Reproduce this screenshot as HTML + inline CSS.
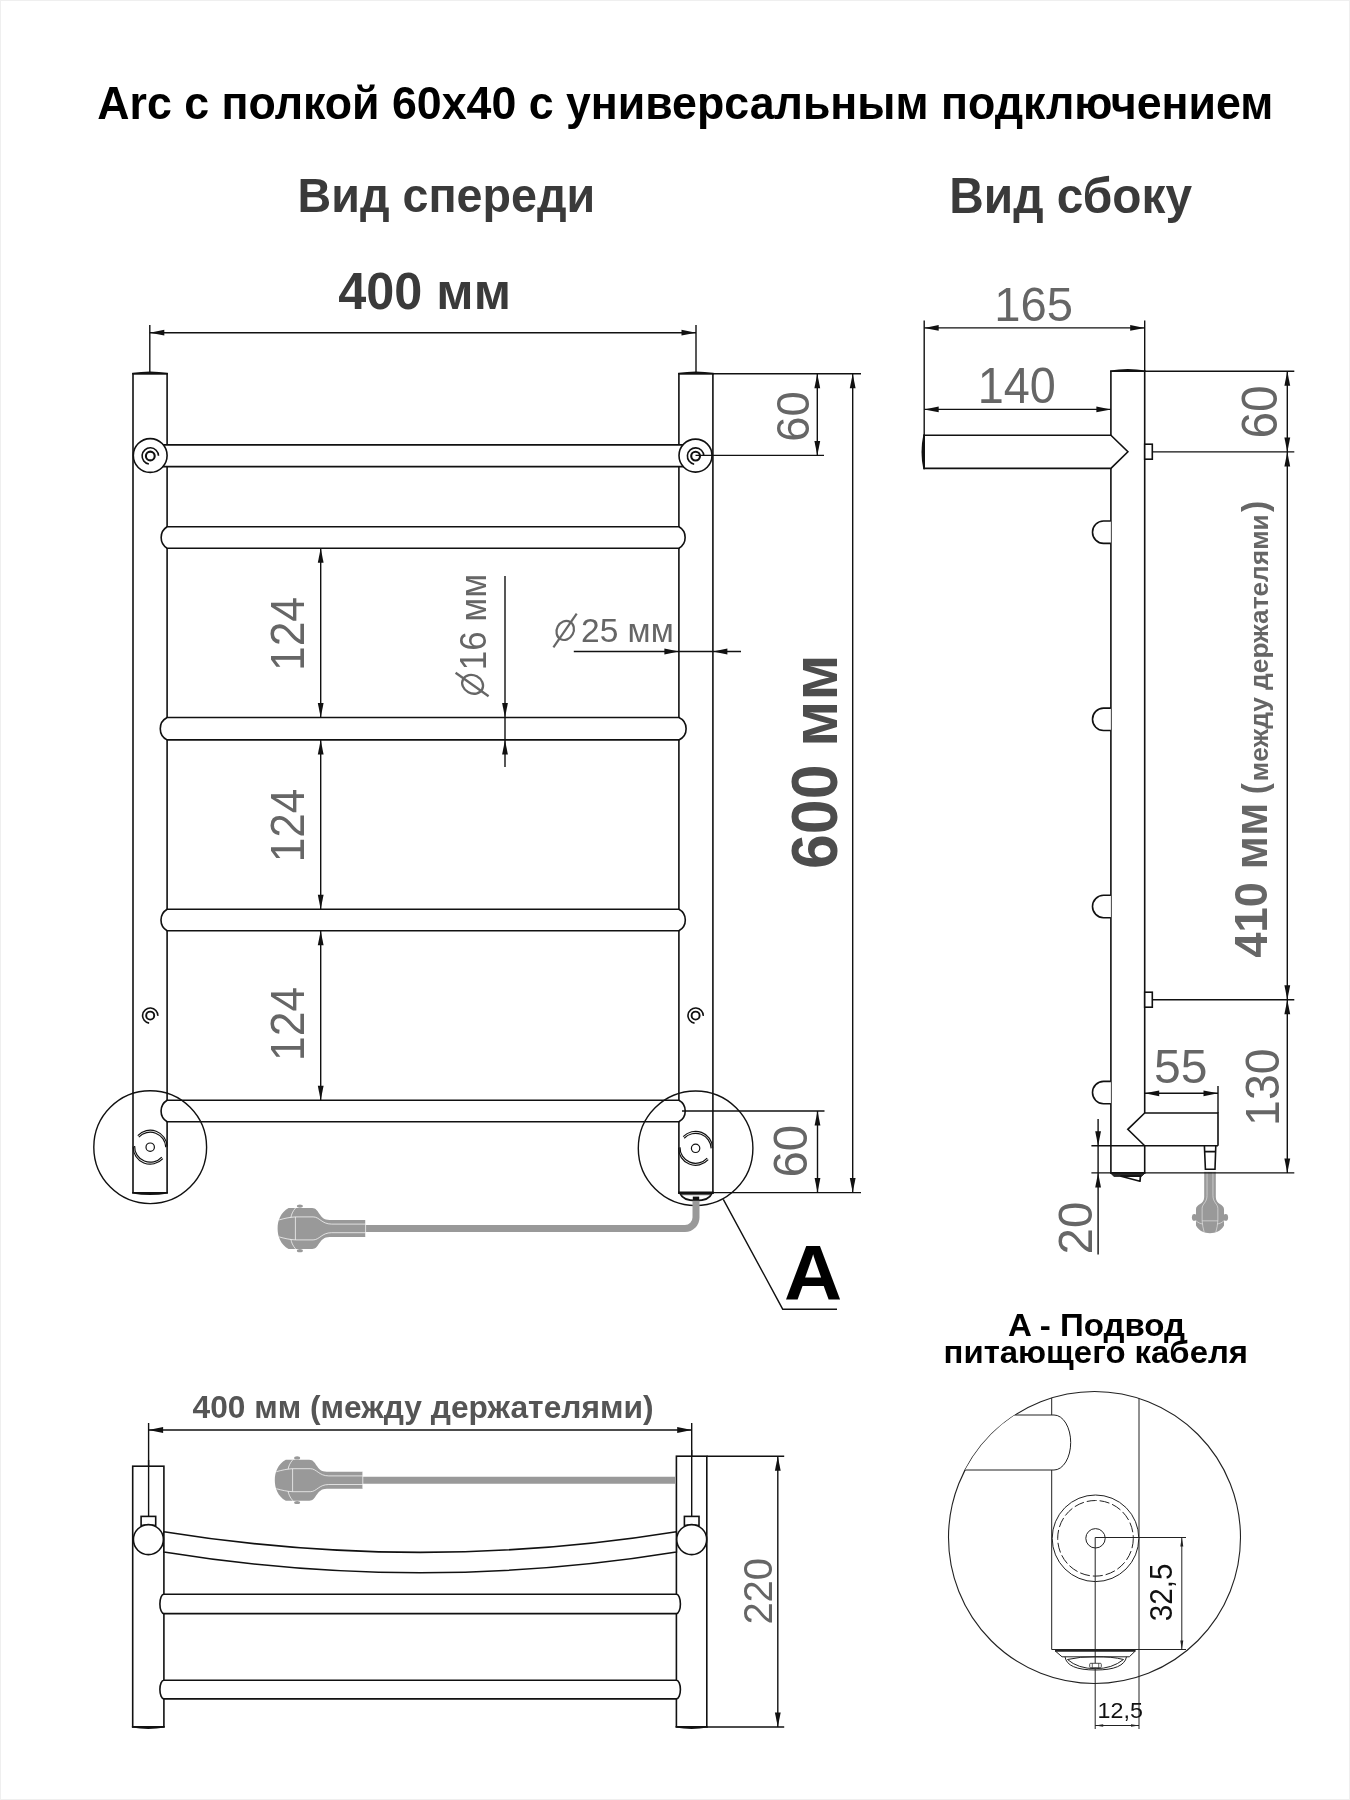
<!DOCTYPE html>
<html lang="ru"><head><meta charset="utf-8"><title>Arc с полкой 60х40</title>
<style>
html,body{margin:0;padding:0;background:#fff;}
body{width:1350px;height:1800px;overflow:hidden;font-family:"Liberation Sans",sans-serif;}
svg{display:block;will-change:transform;}
svg text{font-family:"Liberation Sans",sans-serif;}
</style></head>
<body>
<svg width="1350" height="1800" viewBox="0 0 1350 1800">
<rect width="1350" height="1800" fill="#fff"/>
<defs><g id="plug"><path d="M11,-20.5 L34.5,-20.5 C42,-20.5 41,-8.5 52,-8.5 L88,-8.5 L88,8.5 L52,8.5 C41,8.5 42,20.5 34.5,20.5 L11,20.5 C3,16 0,8 0,0 C0,-8 3,-16 11,-20.5 Z" fill="#999"/><ellipse cx="22.3" cy="-22.3" rx="3" ry="1.6" fill="#999"/><ellipse cx="22.3" cy="22.3" rx="3" ry="1.6" fill="#999"/><g fill="none" stroke="#fff" stroke-width="0.7"><path d="M17.8,-11.5 L35.5,-11.5 C42,-11.5 44,-4.3 54,-4.3 L88,-4.3"/><path d="M17.8,11.5 L35.5,11.5 C42,11.5 44,4.3 54,4.3 L88,4.3"/><path d="M17.8,-11.5 L17.8,11.5"/><path d="M1.5,-8.5 C7,-10 12,-11.2 17.8,-11.5"/><path d="M1.5,8.5 C7,10 12,11.2 17.8,11.5"/><path d="M18,-20.5 C15,-17 13.8,-14 13.3,-10.8"/><path d="M18,20.5 C15,17 13.8,14 13.3,10.8"/><path d="M88,-8.5 L88,8.5"/></g></g></defs>
<text transform="translate(97.29,118.90) scale(0.9827,1)" font-size="45.49" font-weight="bold" fill="#000">Arc с полкой 60х40 с универсальным подключением</text>
<text transform="translate(297.58,211.80) scale(0.9666,1)" font-size="48.26" font-weight="bold" fill="#3a3a3a">Вид спереди</text>
<text transform="translate(949.20,213.40) scale(0.9680,1)" font-size="49.42" font-weight="bold" fill="#3a3a3a">Вид сбоку</text>
<text transform="translate(338.24,309.20) scale(0.9662,1)" font-size="52.18" font-weight="bold" fill="#3a3a3a">400 мм</text>
<rect x="133.0" y="373.6" width="34.10" height="819.20" fill="#fff" stroke="#111" stroke-width="1.6"/>
<path d="M132.2,374.5 L132.2,373.0 Q150.05,370.0 167.9,373.0 L167.9,374.5 Z" fill="#111"/>
<path d="M132.2,1191.8999999999999 L132.2,1193.3999999999999 Q150.05,1196.3999999999999 167.9,1193.3999999999999 L167.9,1191.8999999999999 Z" fill="#111"/>
<rect x="678.9" y="373.6" width="34.00" height="819.20" fill="#fff" stroke="#111" stroke-width="1.6"/>
<path d="M678.1,374.5 L678.1,373.0 Q695.9,370.0 713.6999999999999,373.0 L713.6999999999999,374.5 Z" fill="#111"/>
<line x1="678.10" y1="1192.80" x2="713.70" y2="1192.80" stroke="#111" stroke-width="2.6" />
<rect x="162.1" y="444.9" width="521.80" height="21.7" fill="#fff"/>
<line x1="162.10" y1="444.90" x2="683.90" y2="444.90" stroke="#111" stroke-width="1.6" />
<line x1="162.10" y1="466.60" x2="683.90" y2="466.60" stroke="#111" stroke-width="1.6" />
<path d="M167.1,526.8 L678.9,526.8 A12.3,12.3 0 0 1 678.9,548.2 L167.1,548.2 A12.6,12.6 0 0 1 167.1,526.8 Z" fill="#fff" stroke="#111" stroke-width="1.6"/>
<path d="M167.1,717.5 L678.9,717.5 A12.3,12.3 0 0 1 678.9,739.9 L167.1,739.9 A12.6,12.6 0 0 1 167.1,717.5 Z" fill="#fff" stroke="#111" stroke-width="1.6"/>
<path d="M167.1,909.2 L678.9,909.2 A12.3,12.3 0 0 1 678.9,930.8 L167.1,930.8 A12.6,12.6 0 0 1 167.1,909.2 Z" fill="#fff" stroke="#111" stroke-width="1.6"/>
<path d="M167.1,1100.2 L678.9,1100.2 A12.3,12.3 0 0 1 678.9,1121.7 L167.1,1121.7 A12.6,12.6 0 0 1 167.1,1100.2 Z" fill="#fff" stroke="#111" stroke-width="1.6"/>
<circle cx="150.2" cy="455.5" r="16.9" fill="#fff" stroke="#111" stroke-width="1.6"/>
<circle cx="150.29999999999998" cy="456.0" r="4.4" fill="none" stroke="#111" stroke-width="2.1"/>
<path d="M148.88,464.08 A8.20,8.20 0 1 1 158.50,455.71" fill="none" stroke="#111" stroke-width="1.6"/>
<circle cx="695.5" cy="455.6" r="16.5" fill="#fff" stroke="#111" stroke-width="1.6"/>
<circle cx="695.6" cy="456.1" r="4.4" fill="none" stroke="#111" stroke-width="2.1"/>
<path d="M694.18,464.18 A8.20,8.20 0 1 1 703.80,455.81" fill="none" stroke="#111" stroke-width="1.6"/>
<circle cx="150.2" cy="1015.6" r="4.0" fill="none" stroke="#111" stroke-width="1.9"/>
<path d="M149.14,1023.13 A7.60,7.60 0 1 1 157.80,1015.87" fill="none" stroke="#111" stroke-width="1.6"/>
<circle cx="695.6" cy="1015.6" r="4.0" fill="none" stroke="#111" stroke-width="1.9"/>
<path d="M694.54,1023.13 A7.60,7.60 0 1 1 703.20,1015.87" fill="none" stroke="#111" stroke-width="1.6"/>
<circle cx="150.2" cy="1147.2" r="56.4" fill="none" stroke="#111" stroke-width="1.4"/>
<circle cx="150.2" cy="1147.2" r="4.2" fill="none" stroke="#111" stroke-width="1.2"/>
<path d="M138.79,1137.16 A15.60,15.60 0 0 1 165.79,1147.26" fill="none" stroke="#111" stroke-width="1.2"/>
<path d="M161.79,1157.04 A15.60,15.60 0 0 1 134.61,1146.06" fill="none" stroke="#111" stroke-width="1.2"/>
<path d="M137.77,1135.61 A17.00,17.00 0 0 1 167.19,1146.61" fill="none" stroke="#111" stroke-width="1.2"/>
<path d="M162.83,1158.58 A17.00,17.00 0 0 1 133.21,1146.61" fill="none" stroke="#111" stroke-width="1.2"/>
<circle cx="695.6" cy="1148.3" r="57.3" fill="none" stroke="#111" stroke-width="1.4"/>
<circle cx="695.6" cy="1148.3" r="4.2" fill="none" stroke="#111" stroke-width="1.2"/>
<path d="M684.19,1138.26 A15.60,15.60 0 0 1 711.19,1148.36" fill="none" stroke="#111" stroke-width="1.2"/>
<path d="M707.19,1158.14 A15.60,15.60 0 0 1 680.01,1147.16" fill="none" stroke="#111" stroke-width="1.2"/>
<path d="M683.17,1136.71 A17.00,17.00 0 0 1 712.59,1147.71" fill="none" stroke="#111" stroke-width="1.2"/>
<path d="M708.23,1159.68 A17.00,17.00 0 0 1 678.61,1147.71" fill="none" stroke="#111" stroke-width="1.2"/>
<line x1="149.80" y1="325.00" x2="149.80" y2="373.60" stroke="#111" stroke-width="1.4" />
<line x1="696.00" y1="325.00" x2="696.00" y2="373.60" stroke="#111" stroke-width="1.4" />
<line x1="149.80" y1="332.70" x2="696.00" y2="332.70" stroke="#111" stroke-width="1.4" />
<polygon points="149.80,332.70 164.30,329.80 164.30,335.60" fill="#111"/>
<polygon points="696.00,332.70 681.50,335.60 681.50,329.80" fill="#111"/>
<line x1="712.90" y1="373.80" x2="861.00" y2="373.80" stroke="#111" stroke-width="1.4" />
<line x1="695.50" y1="455.40" x2="824.00" y2="455.40" stroke="#111" stroke-width="1.4" />
<line x1="817.30" y1="373.80" x2="817.30" y2="455.40" stroke="#111" stroke-width="1.4" />
<polygon points="817.30,373.80 820.20,388.30 814.40,388.30" fill="#111"/>
<polygon points="817.30,455.40 814.40,440.90 820.20,440.90" fill="#111"/>
<text transform="translate(808.55,441.80) rotate(-90) scale(0.9751,1)" font-size="46.47" font-weight="normal" fill="#666">60</text>
<line x1="852.70" y1="373.80" x2="852.70" y2="1192.60" stroke="#111" stroke-width="1.4" />
<polygon points="852.70,373.80 855.60,388.30 849.80,388.30" fill="#111"/>
<polygon points="852.70,1192.60 849.80,1178.10 855.60,1178.10" fill="#111"/>
<text transform="translate(836.97,869.00) rotate(-90) scale(0.9668,1)" font-size="64.83" font-weight="bold" fill="#4d4d4d">600 мм</text>
<line x1="682.00" y1="1111.00" x2="824.50" y2="1111.00" stroke="#111" stroke-width="1.4" />
<line x1="712.90" y1="1192.60" x2="861.00" y2="1192.60" stroke="#111" stroke-width="1.4" />
<line x1="817.50" y1="1111.00" x2="817.50" y2="1192.60" stroke="#111" stroke-width="1.4" />
<polygon points="817.50,1111.00 820.40,1125.50 814.60,1125.50" fill="#111"/>
<polygon points="817.50,1192.60 814.60,1178.10 820.40,1178.10" fill="#111"/>
<text transform="translate(806.53,1177.40) rotate(-90) scale(0.9866,1)" font-size="47.88" font-weight="normal" fill="#666">60</text>
<line x1="320.70" y1="548.20" x2="320.70" y2="717.50" stroke="#111" stroke-width="1.4" />
<polygon points="320.70,548.20 323.60,562.70 317.80,562.70" fill="#111"/>
<polygon points="320.70,717.50 317.80,703.00 323.60,703.00" fill="#111"/>
<text transform="translate(303.70,671.09) rotate(-90) scale(0.9407,1)" font-size="47.26" font-weight="normal" fill="#666">124</text>
<line x1="320.70" y1="739.90" x2="320.70" y2="909.20" stroke="#111" stroke-width="1.4" />
<polygon points="320.70,739.90 323.60,754.40 317.80,754.40" fill="#111"/>
<polygon points="320.70,909.20 317.80,894.70 323.60,894.70" fill="#111"/>
<text transform="translate(303.70,862.26) rotate(-90) scale(0.9341,1)" font-size="47.26" font-weight="normal" fill="#666">124</text>
<line x1="320.70" y1="930.80" x2="320.70" y2="1100.20" stroke="#111" stroke-width="1.4" />
<polygon points="320.70,930.80 323.60,945.30 317.80,945.30" fill="#111"/>
<polygon points="320.70,1100.20 317.80,1085.70 323.60,1085.70" fill="#111"/>
<text transform="translate(303.70,1060.88) rotate(-90) scale(0.9387,1)" font-size="47.26" font-weight="normal" fill="#666">124</text>
<line x1="505.00" y1="576.00" x2="505.00" y2="767.00" stroke="#111" stroke-width="1.4" />
<polygon points="505.00,717.50 502.10,703.00 507.90,703.00" fill="#111"/>
<polygon points="505.00,739.90 507.90,754.40 502.10,754.40" fill="#111"/>
<text transform="translate(486.34,670.26) rotate(-90) scale(0.9573,1)" font-size="36.44" font-weight="normal" fill="#666">16 мм</text>
<g transform="translate(472.6,684.3) rotate(-90)" fill="none" stroke="#666" stroke-width="2.3"><ellipse cx="0" cy="0" rx="9.0" ry="10.8" transform="rotate(28)"/><line x1="-12" y1="16" x2="11.5" y2="-17"/></g>
<line x1="573.80" y1="651.50" x2="741.00" y2="651.50" stroke="#111" stroke-width="1.4" />
<polygon points="678.90,651.50 664.40,654.40 664.40,648.60" fill="#111"/>
<polygon points="712.90,651.50 727.40,648.60 727.40,654.40" fill="#111"/>
<text transform="translate(581.01,641.58) scale(1.0368,1)" font-size="32.34" font-weight="normal" fill="#666">25 мм</text>
<g transform="translate(565.2,630.4)" fill="none" stroke="#666" stroke-width="2.2"><ellipse cx="0" cy="0" rx="8.4" ry="9.9" transform="rotate(28)"/><line x1="-11.8" y1="17" x2="11.5" y2="-16.8"/></g>
<path d="M680.2,1193.6 Q683,1200.6 696,1200.6 Q709,1200.6 711.7,1193.6 Z" fill="#fff" stroke="#111" stroke-width="1.7"/>
<line x1="681.5" y1="1194.6" x2="710.5" y2="1194.6" stroke="#555" stroke-width="1.2"/>
<rect x="692.8" y="1196.6" width="6.4" height="4.2" fill="#111"/>
<path d="M365,1228.4 L685,1228.4 A11,11 0 0 0 696,1217.4 L696,1200.8" fill="none" stroke="#999" stroke-width="7"/>
<use href="#plug" transform="translate(277.6,1228.4)"/>
<path d="M723.3,1199.3 L782.7,1309.2 L837,1309.2" fill="none" stroke="#111" stroke-width="1.4"/>
<text transform="translate(783.99,1299.70) scale(1.0272,1)" font-size="78.49" font-weight="bold" fill="#000">A</text>
<path d="M1144.7,1113 L1144.7,371.2 L1110.9,371.2 L1110.9,1172.9 L1144.7,1172.9 L1144.7,1145.7" fill="none" stroke="#111" stroke-width="1.6"/>
<path d="M1110.1000000000001,372.09999999999997 L1110.1000000000001,370.59999999999997 Q1127.8000000000002,367.59999999999997 1145.5,370.59999999999997 L1145.5,372.09999999999997 Z" fill="#111"/>
<path d="M1110.9,435.2 L924.1,435.2 L924.1,468.4 L1110.9,468.4 L1127.9,451.8 Z" fill="#fff" stroke="#111" stroke-width="1.6"/>
<path d="M925,434.4 L923.4,434.4 Q919.6,451.8 923.4,469.2 L925,469.2 Z" fill="#111"/>
<path d="M1110.9,521.0 L1103.5,521.0 A11,11.2 0 0 0 1103.5,543.4000000000001 L1110.9,543.4000000000001" fill="#fff" stroke="#111" stroke-width="1.6"/>
<path d="M1110.9,708.0999999999999 L1103.5,708.0999999999999 A11,11.2 0 0 0 1103.5,730.5 L1110.9,730.5" fill="#fff" stroke="#111" stroke-width="1.6"/>
<path d="M1110.9,895.3 L1103.5,895.3 A11,11.2 0 0 0 1103.5,917.7 L1110.9,917.7" fill="#fff" stroke="#111" stroke-width="1.6"/>
<path d="M1110.9,1081.3999999999999 L1103.5,1081.3999999999999 A11,11.2 0 0 0 1103.5,1103.8 L1110.9,1103.8" fill="#fff" stroke="#111" stroke-width="1.6"/>
<rect x="1144.7" y="444.2" width="7.6" height="15" fill="#fff" stroke="#111" stroke-width="1.6"/>
<rect x="1144.7" y="992.2" width="7.6" height="15" fill="#fff" stroke="#111" stroke-width="1.6"/>
<path d="M1144.7,1145.7 L1127.8,1129.3 L1144.7,1113 L1218,1113 L1218,1145.7" fill="none" stroke="#111" stroke-width="1.6"/>
<path d="M1204.4,1145.7 L1205.4,1169.2 L1215.0,1169.2 L1215.8,1145.7 M1204.6,1151.6 L1215.6,1151.6" fill="none" stroke="#111" stroke-width="1.6"/>
<path d="M1110.4,1172.9 L1145.2,1172.9 L1141.5,1176.4 L1114,1176.4 Z" fill="#2a2a2a" stroke="#111" stroke-width="0.8"/>
<path d="M1121,1176.2 L1140,1181.2 L1140.4,1176.2 Z" fill="#fff" stroke="#111" stroke-width="1.7" stroke-linejoin="round"/>
<ellipse cx="1194.3" cy="1217.4" rx="2.4" ry="3.4" fill="#999"/><ellipse cx="1225.7" cy="1217.4" rx="2.4" ry="3.4" fill="#999"/>
<use href="#plug" transform="translate(1210,1233.3) rotate(-90) scale(0.70,0.684)"/>
<line x1="924.20" y1="320.60" x2="924.20" y2="436.00" stroke="#111" stroke-width="1.4" />
<line x1="1144.70" y1="320.60" x2="1144.70" y2="371.20" stroke="#111" stroke-width="1.4" />
<line x1="924.20" y1="327.90" x2="1144.70" y2="327.90" stroke="#111" stroke-width="1.4" />
<polygon points="924.20,327.90 938.70,325.00 938.70,330.80" fill="#111"/>
<polygon points="1144.70,327.90 1130.20,330.80 1130.20,325.00" fill="#111"/>
<text transform="translate(994.31,320.53) scale(0.9706,1)" font-size="48.59" font-weight="normal" fill="#666">165</text>
<line x1="924.20" y1="409.40" x2="1110.90" y2="409.40" stroke="#111" stroke-width="1.4" />
<polygon points="924.20,409.40 938.70,406.50 938.70,412.30" fill="#111"/>
<polygon points="1110.90,409.40 1096.40,412.30 1096.40,406.50" fill="#111"/>
<text transform="translate(977.73,402.82) scale(0.9522,1)" font-size="49.15" font-weight="normal" fill="#666">140</text>
<line x1="1144.70" y1="371.20" x2="1294.30" y2="371.20" stroke="#111" stroke-width="1.4" />
<line x1="1152.30" y1="451.90" x2="1294.30" y2="451.90" stroke="#111" stroke-width="1.4" />
<line x1="1152.30" y1="999.70" x2="1294.30" y2="999.70" stroke="#111" stroke-width="1.4" />
<line x1="1091.40" y1="1172.90" x2="1294.30" y2="1172.90" stroke="#111" stroke-width="1.4" />
<line x1="1287.30" y1="371.20" x2="1287.30" y2="1172.90" stroke="#111" stroke-width="1.4" />
<polygon points="1287.30,371.20 1290.20,385.70 1284.40,385.70" fill="#111"/>
<polygon points="1287.30,451.90 1284.40,437.40 1290.20,437.40" fill="#111"/>
<polygon points="1287.30,451.90 1290.20,466.40 1284.40,466.40" fill="#111"/>
<polygon points="1287.30,999.70 1284.40,985.20 1290.20,985.20" fill="#111"/>
<polygon points="1287.30,999.70 1290.20,1014.20 1284.40,1014.20" fill="#111"/>
<polygon points="1287.30,1172.90 1284.40,1158.40 1290.20,1158.40" fill="#111"/>
<text transform="translate(1277.22,438.53) rotate(-90) scale(0.9775,1)" font-size="49.01" font-weight="normal" fill="#666">60</text>
<text transform="translate(1266.75,957.69) rotate(-90) scale(0.9836,1)" font-size="46.04" font-weight="bold" fill="#666">410 мм</text>
<text transform="translate(1267.25,794.26) rotate(-90) scale(0.9653,1)" font-size="34.44" font-weight="bold" fill="#666">(</text>
<text transform="translate(1267.50,781.14) rotate(-90) scale(1.0366,1)" font-size="25.36" font-weight="bold" fill="#666">между держателями</text>
<text transform="translate(1267.25,512.03) rotate(-90) scale(0.9830,1)" font-size="34.44" font-weight="bold" fill="#666">)</text>
<text transform="translate(1279.43,1125.94) rotate(-90) scale(0.9567,1)" font-size="48.59" font-weight="normal" fill="#666">130</text>
<line x1="1218.00" y1="1086.00" x2="1218.00" y2="1113.00" stroke="#111" stroke-width="1.4" />
<line x1="1144.70" y1="1093.30" x2="1218.00" y2="1093.30" stroke="#111" stroke-width="1.4" />
<polygon points="1144.70,1093.30 1159.20,1090.40 1159.20,1096.20" fill="#111"/>
<polygon points="1218.00,1093.30 1203.50,1096.20 1203.50,1090.40" fill="#111"/>
<text transform="translate(1154.08,1082.62) scale(0.9833,1)" font-size="48.87" font-weight="normal" fill="#666">55</text>
<line x1="1091.40" y1="1145.70" x2="1218.00" y2="1145.70" stroke="#111" stroke-width="1.6" />
<line x1="1098.10" y1="1119.00" x2="1098.10" y2="1254.50" stroke="#111" stroke-width="1.4" />
<polygon points="1098.10,1145.70 1095.20,1131.20 1101.00,1131.20" fill="#111"/>
<polygon points="1098.10,1172.90 1101.00,1187.40 1095.20,1187.40" fill="#111"/>
<text transform="translate(1092.23,1254.39) rotate(-90) scale(0.9827,1)" font-size="48.45" font-weight="normal" fill="#666">20</text>
<text transform="translate(192.52,1417.90) scale(0.9835,1)" font-size="32.27" font-weight="bold" fill="#555">400 мм (между держателями)</text>
<line x1="148.60" y1="1423.00" x2="148.60" y2="1516.40" stroke="#111" stroke-width="1.4" />
<line x1="691.70" y1="1423.00" x2="691.70" y2="1516.40" stroke="#111" stroke-width="1.4" />
<line x1="148.60" y1="1430.00" x2="691.70" y2="1430.00" stroke="#111" stroke-width="1.4" />
<polygon points="148.60,1430.00 163.10,1427.10 163.10,1432.90" fill="#111"/>
<polygon points="691.70,1430.00 677.20,1432.90 677.20,1427.10" fill="#111"/>
<rect x="132.7" y="1466.2" width="31.20" height="260.80" fill="#fff" stroke="#111" stroke-width="1.6"/>
<rect x="676.4" y="1456.2" width="30.40" height="270.80" fill="#fff" stroke="#111" stroke-width="1.6"/>
<path d="M131.89999999999998,1726.1 L131.89999999999998,1727.6 Q148.3,1730.4 164.70000000000002,1727.6 L164.70000000000002,1726.1 Z" fill="#111"/>
<path d="M675.6,1726.1 L675.6,1727.6 Q691.5999999999999,1730.4 707.5999999999999,1727.6 L707.5999999999999,1726.1 Z" fill="#111"/>
<line x1="148.60" y1="1460.00" x2="148.60" y2="1516.40" stroke="#111" stroke-width="1.4" />
<line x1="691.70" y1="1450.00" x2="691.70" y2="1516.40" stroke="#111" stroke-width="1.4" />
<path d="M163.9,1531.7 Q420,1573 676.4,1531.7 L676.4,1552 Q420,1593.5 163.9,1552 Z" fill="#fff" stroke="#111" stroke-width="1.6"/>
<path d="M163.9,1594.2 L676.4,1594.2 A4,9.70 0 0 1 676.4,1613.6 L163.9,1613.6 A4,9.70 0 0 1 163.9,1594.2 Z" fill="#fff" stroke="#111" stroke-width="1.6"/>
<path d="M163.9,1680.2 L676.4,1680.2 A4,9.35 0 0 1 676.4,1698.9 L163.9,1698.9 A4,9.35 0 0 1 163.9,1680.2 Z" fill="#fff" stroke="#111" stroke-width="1.6"/>
<rect x="141.1" y="1516.4" width="14.6" height="9" fill="#fff" stroke="#111" stroke-width="1.6"/>
<circle cx="148.4" cy="1539.6" r="15" fill="#fff" stroke="#111" stroke-width="1.6"/>
<rect x="684.4000000000001" y="1516.4" width="14.6" height="9" fill="#fff" stroke="#111" stroke-width="1.6"/>
<circle cx="691.7" cy="1539.6" r="15" fill="#fff" stroke="#111" stroke-width="1.6"/>
<path d="M362,1480.2 L675.5,1480.2" fill="none" stroke="#999" stroke-width="7"/>
<use href="#plug" transform="translate(274.8,1480.2)"/>
<line x1="706.80" y1="1456.20" x2="784.20" y2="1456.20" stroke="#111" stroke-width="1.4" />
<line x1="706.80" y1="1727.00" x2="784.20" y2="1727.00" stroke="#111" stroke-width="1.4" />
<line x1="777.80" y1="1456.20" x2="777.80" y2="1727.00" stroke="#111" stroke-width="1.4" />
<polygon points="777.80,1456.20 780.70,1470.70 774.90,1470.70" fill="#111"/>
<polygon points="777.80,1727.00 774.90,1712.50 780.70,1712.50" fill="#111"/>
<text transform="translate(771.70,1624.61) rotate(-90) scale(0.9742,1)" font-size="40.96" font-weight="normal" fill="#666">220</text>
<text transform="translate(1007.88,1335.80) scale(1.0434,1)" font-size="31.69" font-weight="bold" fill="#000">A - Подвод</text>
<text transform="translate(943.60,1363.10) scale(1.0377,1)" font-size="31.69" font-weight="bold" fill="#000">питающего кабеля</text>
<clipPath id="dc"><circle cx="1094.5" cy="1537.5" r="146.0"/></clipPath>
<circle cx="1094.5" cy="1537.5" r="146.0" fill="none" stroke="#222" stroke-width="1.1"/>
<g clip-path="url(#dc)" fill="none" stroke="#222" stroke-width="1.0">
<path d="M1051.7,1380 L1051.7,1649.5 L1139,1649.5"/>
<path d="M940,1415 L1054,1415 A16.7,27.5 0 0 1 1054,1470 L940,1470" fill="#fff"/>
</g>
<line x1="1139.00" y1="1398.50" x2="1139.00" y2="1729.00" stroke="#222" stroke-width="1.0" />
<circle cx="1095.5" cy="1538.3" r="43.3" fill="#fff" stroke="#222" stroke-width="1.0"/>
<circle cx="1095.5" cy="1538.3" r="37.8" fill="none" stroke="#222" stroke-width="1.0" stroke-dasharray="10 3"/>
<circle cx="1095.5" cy="1538.3" r="9.7" fill="none" stroke="#222" stroke-width="1.0"/>
<line x1="1095.20" y1="1537.50" x2="1186.00" y2="1537.50" stroke="#222" stroke-width="1.0" />
<line x1="1095.20" y1="1537.50" x2="1095.20" y2="1729.00" stroke="#222" stroke-width="1.0" />
<line x1="1139.00" y1="1649.50" x2="1186.00" y2="1649.50" stroke="#222" stroke-width="1.0" />
<line x1="1181.80" y1="1537.50" x2="1181.80" y2="1649.50" stroke="#222" stroke-width="1.0" />
<polygon points="1181.80,1537.50 1183.30,1546.50 1180.30,1546.50" fill="#222"/>
<polygon points="1181.80,1649.50 1180.30,1640.50 1183.30,1640.50" fill="#222"/>
<line x1="1095.20" y1="1725.50" x2="1139.00" y2="1725.50" stroke="#222" stroke-width="1.0" />
<polygon points="1095.20,1725.50 1103.20,1724.20 1103.20,1726.80" fill="#222"/>
<polygon points="1139.00,1725.50 1131.00,1726.80 1131.00,1724.20" fill="#222"/>
<text transform="translate(1171.95,1621.13) rotate(-90) scale(0.9647,1)" font-size="30.72" font-weight="normal" fill="#111">32,5</text>
<text transform="translate(1097.53,1718.38) scale(1.0368,1)" font-size="22.46" font-weight="normal" fill="#111">12,5</text>
<path d="M1055,1650.7 L1135.5,1650.7" stroke="#222" stroke-width="2.2"/>
<path d="M1055.3,1651 L1062,1656.8 L1129.3,1656.8 L1135.3,1651" fill="none" stroke="#222" stroke-width="1.0"/>
<path d="M1065,1656.8 Q1067,1670 1095.5,1670 Q1124,1670 1126.5,1656.8" fill="none" stroke="#222" stroke-width="1.0"/>
<path d="M1067.5,1659.5 Q1080,1656.5 1095.5,1656.8 Q1112,1656.5 1123.5,1659.5 Q1112,1668.7 1095.5,1668.7 Q1078,1668.7 1067.5,1659.5 Z" fill="none" stroke="#222" stroke-width="1.0"/>
<rect x="1089.7" y="1663.3" width="11.6" height="4.4" rx="1" fill="#fff" stroke="#222" stroke-width="0.8"/>
<line x1="1092.30" y1="1663.30" x2="1092.30" y2="1667.70" stroke="#222" stroke-width="0.7" />
<line x1="1098.70" y1="1663.30" x2="1098.70" y2="1667.70" stroke="#222" stroke-width="0.7" />
<rect x="0.5" y="0.5" width="1349" height="1799" fill="none" stroke="#efefef" stroke-width="1"/>
</svg>
</body></html>
